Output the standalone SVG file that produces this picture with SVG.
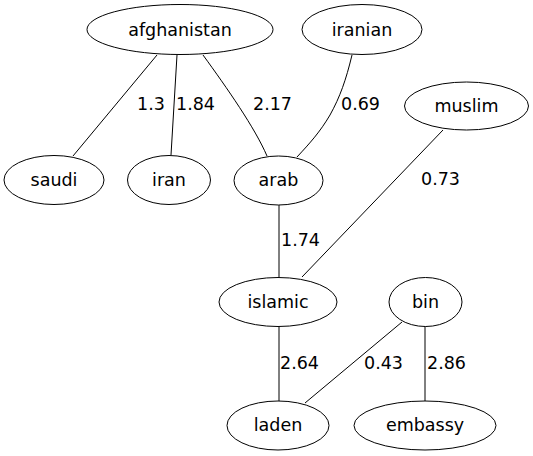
<svg xmlns="http://www.w3.org/2000/svg" width="533" height="456" viewBox="0 0 533 456">
<style>
ellipse{fill:#fff;stroke:#000;stroke-width:1}
text{font-family:"DejaVu Sans",sans-serif;font-size:17.5px;fill:#000}
.n{text-anchor:middle}
#edges path{fill:none;stroke:#000;stroke-width:1}
</style>
<rect width="533" height="456" fill="#fff"/>
<g id="edges">
<path d="M157,55 L73,156"/>
<path d="M177,55 L171,155"/>
<path d="M203,55 C227,88 255,128 267,156"/>
<path d="M352,55 C346,80 340,97 330,115 C320,132 310,143 297,157"/>
<path d="M443,130 L302,277"/>
<path d="M279,205 L279,277"/>
<path d="M279,327 L279,401"/>
<path d="M402,322 L305,403"/>
<path d="M425,326 L425,401"/>
<text x="137" y="110">1.3</text>
<text x="176" y="110">1.84</text>
<text x="253" y="110">2.17</text>
<text x="341" y="110">0.69</text>
<text x="421" y="185">0.73</text>
<text x="281" y="246">1.74</text>
<text x="280" y="369">2.64</text>
<text x="364" y="369">0.43</text>
<text x="427" y="369">2.86</text>
</g>
<g id="afghanistan"><ellipse cx="180" cy="29.5" rx="93" ry="25"/><text class="n" x="180" y="35.5">afghanistan</text></g>
<g id="iranian"><ellipse cx="362" cy="29.5" rx="60" ry="25"/><text class="n" x="362" y="35.5">iranian</text></g>
<g id="muslim"><ellipse cx="466.5" cy="106" rx="62" ry="24"/><text class="n" x="466.5" y="111.5">muslim</text></g>
<g id="saudi"><ellipse cx="54" cy="180" rx="50" ry="24.5"/><text class="n" x="54" y="186">saudi</text></g>
<g id="iran"><ellipse cx="169" cy="180" rx="41.5" ry="24.5"/><text class="n" x="169" y="186">iran</text></g>
<g id="arab"><ellipse cx="278.5" cy="180.5" rx="44.5" ry="24.5"/><text class="n" x="278.5" y="186">arab</text></g>
<g id="islamic"><ellipse cx="278" cy="302" rx="59" ry="24.5"/><text class="n" x="278" y="307.5">islamic</text></g>
<g id="bin"><ellipse cx="425.5" cy="302" rx="36.5" ry="24.5"/><text class="n" x="425.5" y="307.5">bin</text></g>
<g id="laden"><ellipse cx="278" cy="425.5" rx="51" ry="24.5"/><text class="n" x="278" y="431">laden</text></g>
<g id="embassy"><ellipse cx="425" cy="425.5" rx="71" ry="24.5"/><text class="n" x="425" y="431">embassy</text></g>
</svg>
